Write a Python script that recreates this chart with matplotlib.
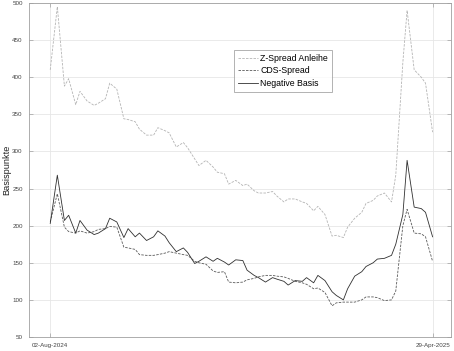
import matplotlib
matplotlib.use("Agg")
import matplotlib.pyplot as plt
import numpy as np
import pandas as pd

plt.rcParams["font.family"] = ["Liberation Sans", "DejaVu Sans"]

# every third business day between the two labelled dates
dates = pd.bdate_range("2024-08-02", "2025-04-29")[::3]

z_spread = [
    410, 495, 388, 398, 363, 381, 368, 362, 365, 371,
    392, 384, 344, 343, 340, 330, 322, 322, 332, 328,
    325, 306, 312, 305, 290, 281, 288, 279, 272, 270,
    256, 261, 254, 256, 247, 244, 244, 246, 240, 232,
    236, 236, 232, 230, 220, 226, 215, 186, 187, 184,
    198, 210, 218, 230, 234, 240, 244, 232, 268, 420,
    490, 410, 400, 392, 326,
]
cds_spread = [
    205, 243, 198, 192, 190, 193, 190, 192, 195, 196,
    199, 198, 171, 170, 168, 161, 160, 160, 161, 163,
    165, 163, 161, 160, 152, 150, 148, 139, 137, 138,
    124, 123, 124, 127, 129, 131, 133, 133, 132, 131,
    129, 125, 123, 121, 115, 116, 110, 92, 96, 97,
    97, 97, 100, 104, 104, 103, 99, 100, 112, 200,
    222, 190, 189, 185, 152,
]
neg_basis = [
    203, 268, 207, 214, 190, 207, 194, 188, 190, 196,
    210, 205, 184, 196, 185, 190, 180, 185, 193, 186,
    177, 165, 170, 164, 149, 152, 158, 152, 156, 151,
    147, 154, 153, 140, 133, 130, 124, 130, 128, 125,
    120, 126, 125, 130, 123, 133, 126, 111, 106, 100,
    115, 132, 138, 145, 150, 155, 156, 160, 175, 215,
    288, 225, 223, 218, 185,
]

yticks = np.arange(50, 501, 50)
xtick_dates = [pd.Timestamp("2024-08-02"), pd.Timestamp("2025-04-29")]
xtick_labels = ["02-Aug-2024", "29-Apr-2025"]

fig = plt.figure(figsize=(4.54, 3.51), dpi=100)
ax = fig.add_axes([29 / 454, 14 / 351, 422 / 454, 334 / 351])

ax.plot(dates, z_spread, color="#b4b4b4", linestyle=(0, (3, 1.5)),
        linewidth=0.6, label="Z-Spread Anleihe")
ax.plot(dates, cds_spread, color="#5a5a5a", linestyle=(0, (3, 1.5)),
        linewidth=0.6, label="CDS-Spread")
ax.plot(dates, neg_basis, color="#303030", linestyle="-",
        linewidth=0.6, label="Negative Basis")

ax.set_xlim(pd.Timestamp("2024-07-18"), pd.Timestamp("2025-05-12"))
ax.set_ylim(50, 500)
ax.set_yticks(yticks)
ax.set_xticks(xtick_dates)
ax.set_xticklabels(xtick_labels)

ax.grid(True, color="#e6e6e6", linewidth=0.6)
ax.set_axisbelow(True)
for s in ax.spines.values():
    s.set_color("#a0a0a0")
    s.set_linewidth(0.6)

ax.tick_params(axis="both", direction="in", length=3, width=0.5,
               colors="#a0a0a0", labelcolor="#444444", top=True, right=True)
ax.tick_params(axis="y", labelsize=4.5, pad=4.5)
ax.tick_params(axis="x", labelsize=4.5, pad=4)

ax.set_ylabel("Basispunkte", fontsize=6.6, color="#222222")
ax.yaxis.set_label_coords(-18 / 422, 0.5)

leg = ax.legend(loc="upper left", bbox_to_anchor=(205 / 422, 0.859),
                fontsize=6.3, frameon=True, fancybox=False,
                handlelength=2.3, handletextpad=0.3, borderpad=0.4,
                labelspacing=0.43, borderaxespad=0)
leg.get_frame().set_edgecolor("#909090")
leg.get_frame().set_linewidth(0.6)

fig.savefig("out.png", dpi=100)
